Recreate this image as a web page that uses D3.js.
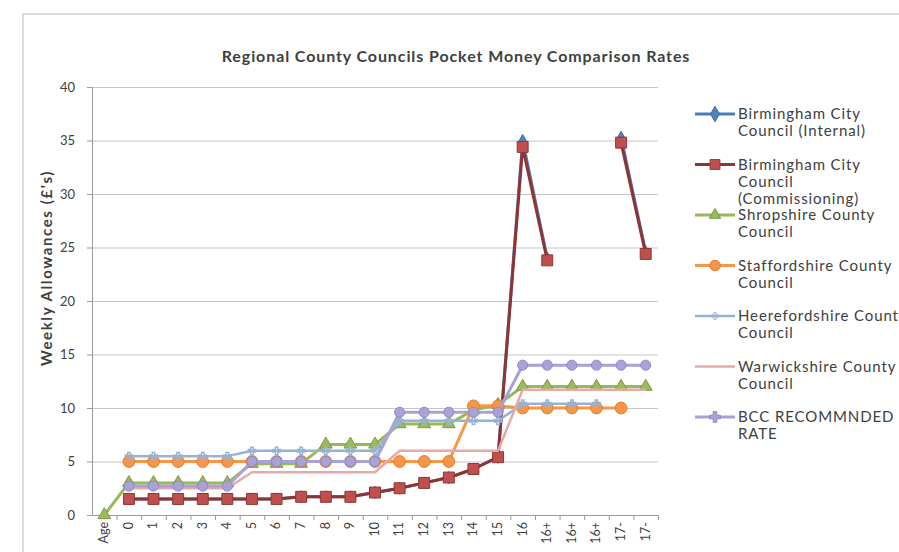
<!DOCTYPE html>
<html>
<head>
<meta charset="utf-8">
<script src="https://cdn.jsdelivr.net/npm/d3@7"></script>
<style>
  body { margin: 0; background: #fff; }
  text { font-family: Lato, "Open Sans", sans-serif; fill: #404040; }
</style>
</head>
<body>
<svg id="chart" width="899" height="552"></svg>
<script>
// categories along the x axis (note the repeated 16+ / 17- columns)
var categories = ["Age","0","1","2","3","4","5","6","7","8","9","10","11","12","13","14","15","16","16+","16+","16+","17-","17-"];
var yTicks = [0,5,10,15,20,25,30,35,40];

// weekly allowance (£) per series, null = no value
var bccInternal      = [null,1.5,1.5,1.5,1.5,1.5,1.5,1.5,1.7,1.7,1.7,2.1,2.5,3.0,3.5,4.3,5.4,35.0,24.0,null,null,35.3,24.6];
var bccCommissioning = [null,1.5,1.5,1.5,1.5,1.5,1.5,1.5,1.7,1.7,1.7,2.1,2.5,3.0,3.5,4.3,5.4,34.4,23.8,null,null,34.8,24.4];
var shropshire       = [0,3,3,3,3,3,4.8,4.8,4.8,6.6,6.6,6.6,8.5,8.5,8.5,9.8,10.3,12,12,12,12,12,12];
var staffordshire    = [null,5,5,5,5,5,5,5,5,5,5,5,5,5,5,10.2,10.2,10,10,10,10,10,null];
var herefordshire    = [null,5.5,5.5,5.5,5.5,5.5,6.0,6.0,6.0,6.0,6.0,6.0,8.8,8.8,8.8,8.8,8.8,10.4,10.4,10.4,10.4,null,null];
var warwickshire     = [null,2.5,2.5,2.5,2.5,2.5,4.0,4.0,4.0,4.0,4.0,4.0,6.0,6.0,6.0,6.0,6.0,11.7,11.7,11.7,11.7,11.7,11.7];
var bccRecommended   = [null,2.7,2.7,2.7,2.7,2.7,5.0,5.0,5.0,5.0,5.0,5.0,9.6,9.6,9.6,9.6,9.6,14,14,14,14,14,14];

var seriesNames = [
  ["Birmingham City", "Council (Internal)"],
  ["Birmingham City", "Council", "(Commissioning)"],
  ["Shropshire County", "Council"],
  ["Staffordshire County", "Council"],
  [" Heerefordshire County", "Council"],
  ["Warwickshire County", "Council"],
  ["BCC RECOMMNDED", "RATE"]
];

var series = [
  {name: seriesNames[0], values: bccInternal,      line: "#4A7EBB", fill: "#4F81BD", stroke: "#3F6FA8", w: 3,   sym: d3.symbolDiamond,  size: 42},
  {name: seriesNames[1], values: bccCommissioning, line: "#8E3533", fill: "#C0504D", stroke: "#8C3836", w: 3,   sym: d3.symbolSquare,   size: 120},
  {name: seriesNames[2], values: shropshire,       line: "#98B954", fill: "#9BBB59", stroke: "#7E9A45", w: 3,   sym: d3.symbolTriangle, size: 70},
  {name: seriesNames[3], values: staffordshire,    line: "#F79646", fill: "#F79646", stroke: "#E07F30", w: 3,   sym: d3.symbolCircle,   size: 110},
  {name: seriesNames[4], values: herefordshire,    line: "#95B3D7", fill: "none",    stroke: "#95B3D7", w: 2.5, sym: d3.symbolCross,    size: 30},
  {name: seriesNames[5], values: warwickshire,     line: "#E6A9A7", fill: "none",    stroke: "none",    w: 2.5, sym: null,              size: 0},
  {name: seriesNames[6], values: bccRecommended,   line: "#A9A2D6", fill: "#A9A2D6", stroke: "#9189C4", w: 3,   sym: d3.symbolCircle,   size: 80}
];

var svg = d3.select("#chart");

// chart frame (cropped on the right and bottom)
svg.append("path")
    .attr("d", "M23,560 L23,14 L905,14")
    .attr("fill", "none")
    .attr("stroke", "#d0d0d0")
    .attr("stroke-width", 1.5);

var plotL = 92, plotR = 658, plotT = 87, plotB = 515;

var x = d3.scalePoint()
    .domain(d3.range(categories.length))
    .range([plotL, plotR])
    .padding(0.5);

var y = d3.scaleLinear()
    .domain([0, 40])
    .range([plotB, plotT]);

// gridlines
svg.append("g")
    .attr("transform", "translate(" + plotL + ",0)")
    .call(d3.axisLeft(y).tickValues(yTicks.slice(1)).tickSize(-(plotR - plotL)).tickFormat(""))
    .call(function(g){
      g.select(".domain").remove();
      g.selectAll("line").attr("stroke", "#c6c6c6").attr("stroke-width", 1.2);
    });

// y axis
svg.append("g")
    .attr("transform", "translate(" + plotL + ",0)")
    .call(d3.axisLeft(y).tickValues(yTicks).tickSize(5).tickPadding(12))
    .call(function(g){
      g.select(".domain").attr("stroke", "#9a9a9a");
      g.selectAll("line").attr("stroke", "#9a9a9a");
      g.selectAll("text").style("font-size", "13px").attr("fill", "#555");
    });

// x axis
var step = x.step();
svg.append("g")
    .attr("transform", "translate(0," + plotB + ")")
    .call(d3.axisBottom(x).tickSize(0).tickFormat(function(i){ return categories[i]; }))
    .call(function(g){
      g.select(".domain").attr("stroke", "#9a9a9a");
      g.selectAll(".tick text")
        .style("font-size", "12.5px")
        .attr("fill", "#555")
        .attr("text-anchor", "end")
        .attr("transform", "rotate(-90)")
        .attr("x", -7)
        .attr("y", -1)
        .attr("dy", "0.35em");
      g.selectAll(".tick").append("line")
        .attr("x1", step / 2).attr("x2", step / 2)
        .attr("y1", 0).attr("y2", 5)
        .attr("stroke", "#9a9a9a");
    });

var line = d3.line()
    .defined(function(d){ return d != null; })
    .x(function(d, i){ return x(i); })
    .y(function(d){ return y(d); });

series.forEach(function(s){
  var g = svg.append("g");
  g.append("path")
      .attr("d", line(s.values))
      .attr("fill", "none")
      .attr("stroke", s.line)
      .attr("stroke-width", s.w)
      .attr("stroke-linejoin", "round");
  if (s.sym) {
    g.selectAll("path.mark")
      .data(s.values.map(function(v, i){ return {v: v, i: i}; }).filter(function(d){ return d.v != null; }))
      .enter().append("path")
        .attr("class", "mark")
        .attr("transform", function(d){ return "translate(" + x(d.i) + "," + y(d.v) + ")"; })
        .attr("d", d3.symbol().type(s.sym).size(s.size))
        .attr("fill", s.fill === "none" ? "none" : s.fill)
        .attr("stroke", s.stroke)
        .attr("stroke-width", s.sym === d3.symbolCross ? 1.5 : 1);
  }
});

// title
svg.append("text")
    .attr("x", 456)
    .attr("y", 62)
    .attr("text-anchor", "middle")
    .style("font-size", "16px")
    .style("font-weight", "bold")
    .style("letter-spacing", "0.9px")
    .attr("fill", "#222")
    .text("Regional County Councils  Pocket Money Comparison Rates");

// y axis title
svg.append("text")
    .attr("transform", "translate(52,268) rotate(-90)")
    .attr("text-anchor", "middle")
    .style("font-size", "15px")
    .style("font-weight", "bold")
    .style("letter-spacing", "1.6px")
    .attr("fill", "#222")
    .text("Weekly Allowances (£'s)");

// legend
var legend = svg.append("g");
series.forEach(function(s, k){
  var ly = 114 + k * 50.5;
  var item = legend.append("g").attr("transform", "translate(0," + ly + ")");
  item.append("line")
      .attr("x1", 695).attr("x2", 735)
      .attr("stroke", s.line)
      .attr("stroke-width", s.w);
  if (s.sym) {
    item.append("path")
        .attr("transform", "translate(715,0)")
        .attr("d", d3.symbol().type(k === 6 ? d3.symbolCross : s.sym).size(k === 0 ? 70 : s.size * 0.8))
        .attr("fill", s.fill === "none" ? "none" : s.fill)
        .attr("stroke", s.stroke);
  }
  var t = item.append("text")
      .attr("x", 738)
      .attr("y", 5)
      .style("font-size", "15px")
      .style("letter-spacing", "0.9px")
      .attr("fill", "#444");
  s.name.forEach(function(part, j){
    t.append("tspan").attr("x", 738).attr("dy", j === 0 ? 0 : 17).text(part);
  });
});
</script>
</body>
</html>
